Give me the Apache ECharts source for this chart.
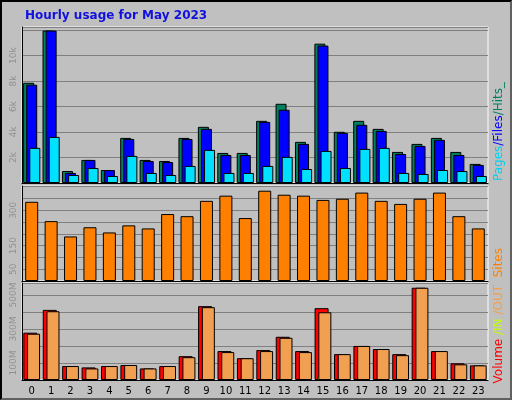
<!DOCTYPE html>
<html><head><meta charset="utf-8">
<script src="https://cdn.jsdelivr.net/npm/echarts@6/dist/echarts.min.js"></script>
<style>html,body{margin:0;padding:0;background:#fff}#c{width:512px;height:400px;box-sizing:border-box;border:2px solid #000;border-right-color:#606060;border-bottom-color:#606060}</style>
</head><body><div id="c"></div>
<script>
const hours = ['0','1','2','3','4','5','6','7','8','9','10','11','12','13','14','15','16','17','18','19','20','21','22','23'];
const hits  = [7870,11970,940,1810,1020,3540,1810,1730,3540,4410,2360,2360,4880,6220,3230,10940,4020,4880,4250,2440,3070,3540,2440,1500];
const files = [7720,11970,790,1810,1020,3460,1730,1650,3460,4250,2200,2200,4800,5750,3070,10790,3940,4570,4090,2280,2910,3390,2200,1420];
const pages = [2760,3620,630,1180,550,2130,790,630,1340,2600,790,790,1340,2050,1100,2520,1180,2680,2760,790,710,1020,940,550];
const sites = [336,254,189,228,206,236,223,284,275,340,362,267,383,366,362,344,349,375,340,327,349,375,275,223];
const volume = [278,412,82,74,82,88,68,82,140,434,170,128,176,254,170,422,152,200,182,152,542,170,98,86];
const inVol  = [0,4,0,0,0,0,0,0,0,0,0,0,0,0,0,24,0,0,0,0,0,0,0,0];
const outVol = [272,404,82,68,82,88,68,82,134,428,164,128,170,248,164,398,152,200,182,146,542,170,92,86];

const L = 20, R = 22;
const grids = [
  {left:L, right:R, top:25, height:156},
  {left:L, right:R, top:184, height:95},
  {left:L, right:R, top:281, height:97}
].map(g => Object.assign(g, {show:true, borderColor:'#ffffff', borderWidth:1, backgroundColor:'transparent'}));
function xa(i, show){
  return {type:'category', gridIndex:i, data:hours, boundaryGap:true,
    axisLine:{show:true, lineStyle:{color:'#000', width:1}}, axisTick:{show:false},
    axisLabel:{show:show, color:'#000', fontSize:10, fontFamily:'DejaVu Sans', margin:6}};
}
function ya(i, max, interval, labels, fmt){
  return {type:'value', gridIndex:i, min:0, max:max, interval:interval,
    axisLine:{show:true, lineStyle:{color:'#000'}}, axisTick:{show:false},
    splitLine:{show:true, lineStyle:{color:'#808080', width:1}},
    axisLabel:{color:'#909090', fontSize:9, fontFamily:'DejaVu Sans', rotate:90, margin:4,
      showMinLabel:false, showMaxLabel:false,
      formatter: v => labels.includes(v) ? fmt(v) : ''}};
}
const bs = {borderColor:'#000', borderWidth:1};
const chart = echarts.init(document.getElementById('c'));
chart.setOption({
  backgroundColor:'#c0c0c0',
  animation:false,
  title:{text:'Hourly usage for May 2023', left:18, top:3,
    textStyle:{color:'#1010e0', fontSize:12, fontWeight:'bold', fontFamily:'DejaVu Sans'}},
  grid:grids,
  xAxis:[xa(0,false), xa(1,false), xa(2,true)],
  yAxis:[
    ya(0, 12250, 2000, [2000,4000,6000,8000,10000], v => (v/1000)+'k'),
    ya(1, 403, 50, [50,150,300], v => String(v)),
    ya(2, 570, 100, [100,300,500], v => v+'M')
  ],
  series:[
    {type:'bar', xAxisIndex:0, yAxisIndex:0, data:hits, barWidth:11, barGap:'-72%', itemStyle:Object.assign({color:'#008060'},bs)},
    {type:'bar', xAxisIndex:0, yAxisIndex:0, data:files, barWidth:11, barGap:'-72%', itemStyle:Object.assign({color:'#0000ff'},bs)},
    {type:'bar', xAxisIndex:0, yAxisIndex:0, data:pages, barWidth:11, barGap:'-72%', itemStyle:Object.assign({color:'#00e0ff'},bs)},
    {type:'bar', xAxisIndex:1, yAxisIndex:1, data:sites, barWidth:13, itemStyle:Object.assign({color:'#ff8000'},bs)},
    {type:'bar', xAxisIndex:2, yAxisIndex:2, data:volume, barWidth:14, barGap:'-100%', itemStyle:Object.assign({color:'#ff0000'},bs)},
    {type:'bar', xAxisIndex:2, yAxisIndex:2, data:inVol, barWidth:3, barGap:'-100%', itemStyle:{color:'#c0ff00', borderColor:'#000', borderWidth:0.5}},
    {type:'bar', xAxisIndex:2, yAxisIndex:2, data:outVol, barWidth:13, barGap:'-78%', itemStyle:Object.assign({color:'#f0a050'},bs)}
  ],
  graphic:[
    {type:'text', left:491, top:80, rotation:Math.PI/2, style:{text:'{a|Pages}{b|/Files}{c|/Hits_}', rich:{a:{fill:'#00d0f0',fontSize:12,fontFamily:'DejaVu Sans'},b:{fill:'#0000ff',fontSize:12,fontFamily:'DejaVu Sans'},c:{fill:'#008060',fontSize:12,fontFamily:'DejaVu Sans'}}}},
    {type:'text', left:491, top:246, rotation:Math.PI/2, style:{text:'Sites', fill:'#ff8000', fontSize:12, fontFamily:'DejaVu Sans'}},
    {type:'text', left:491, top:283, rotation:Math.PI/2, style:{text:'{a|Volume}{b| /IN}{c| /OUT}', rich:{a:{fill:'#ff0000',fontSize:12,fontFamily:'DejaVu Sans'},b:{fill:'#c0ff00',fontSize:12,fontFamily:'DejaVu Sans'},c:{fill:'#f0a050',fontSize:12,fontFamily:'DejaVu Sans'}}}}
  ]
});
</script></body></html>
